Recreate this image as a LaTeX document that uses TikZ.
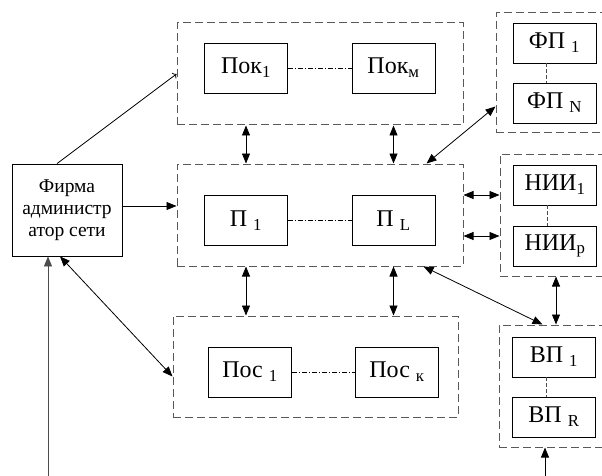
\documentclass[tikz,border=0pt]{standalone}
\usepackage{fontspec}
\setmainfont{Liberation Serif}
\usetikzlibrary{arrows.meta}

\begin{document}
\begin{tikzpicture}[x=1pt, y=-1pt, line width=0.8pt,
    unit/.style={draw, minimum width=83pt, minimum height=50pt, inner sep=0pt,
        font=\fontsize{24}{28}\selectfont},
    small/.style={unit, minimum height=40pt},
    group/.style={draw=black!65, dash pattern=on 8pt off 4pt, line width=1pt,
        inner sep=0pt},
    chain/.style={dash pattern=on 5pt off 2pt on 1pt off 2pt, line width=0.6pt},
    link/.style={draw=black!70, dash pattern=on 4pt off 2pt, line width=0.6pt},
    both/.style={{Triangle[length=10pt,width=8pt]}-{Triangle[length=10pt,width=8pt]}},
    to/.style={-{Triangle[length=10pt,width=8pt]}}]
    \clip (0,0) rectangle (602,476);
    % firm
    \node[draw, minimum width=110pt, minimum height=92pt, inner sep=0pt, align=center,
        font=\fontsize{19.5}{22}\selectfont] (firm) at (67,210)
        {Фирма\\администр\\атор сети};
    % groups
    \node[group, minimum width=286pt, minimum height=102pt] (pokG) at (320,74) {};
    \node[group, minimum width=286pt, minimum height=102pt] (pG) at (320,215) {};
    \node[group, minimum width=285pt, minimum height=101pt] (posG) at (315.5,366.5) {};
    \node[group, minimum width=116pt, minimum height=120pt] (fpG) at (554,73) {};
    \node[group, minimum width=112pt, minimum height=122pt] (niiG) at (556,215) {};
    \node[group, minimum width=113pt, minimum height=122pt] (vpG) at (555.5,386) {};
    % units
    \node[unit] (pok1) at (246,68) {Пок\textsubscript{1}};
    \node[unit] (pokm) at (393.5,68) {Пок\textsubscript{м}};
    \node[unit] (p1) at (246,220.5) {П \textsubscript{1}};
    \node[unit] (pL) at (393.5,220.5) {П \textsubscript{L}};
    \node[unit] (pos1) at (250,372) {Пос \textsubscript{1}};
    \node[unit] (posk) at (397,372) {Пос \textsubscript{к}};
    \node[small] (fp1) at (554.5,43) {ФП \textsubscript{1}};
    \node[small] (fpN) at (554.5,103) {ФП \textsubscript{N}};
    \node[small] (nii1) at (555,185) {НИИ\textsubscript{1}};
    \node[small] (niip) at (555,246) {НИИ\textsubscript{р}};
    \node[small] (vp1) at (554,357) {ВП \textsubscript{1}};
    \node[small] (vpR) at (554,417) {ВП \textsubscript{R}};
    % inside the groups
    \draw[chain] (pok1) -- (pokm);
    \draw[chain] (p1) -- (pL);
    \draw[chain] (pos1) -- (posk);
    \draw[link] ([xshift=-8pt]fp1.south) -- ([xshift=-8pt]fpN.north);
    \draw[link] ([xshift=-8pt]nii1.south) -- ([xshift=-8pt]niip.north);
    \draw[link] ([xshift=-8pt]vp1.south) -- ([xshift=-8pt]vpR.north);
    % links
    \draw[->] ([xshift=-10pt]firm.north) -- (pokG.west);
    \draw[to] ([yshift=4pt]firm.east) -- ([yshift=4pt]firm.east -| pG.west);
    \draw[both] ([xshift=-7pt]firm.south) -- ([yshift=-10pt]posG.west);
    \draw[both] (pokG.south -| p1) -- (pG.north -| p1);
    \draw[both] (pokG.south -| pL) -- (pG.north -| pL);
    \draw[both] (pG.south -| p1) -- (posG.north -| p1);
    \draw[both] (pG.south -| pL) -- (posG.north -| pL);
    \draw[both] ([yshift=27pt]fpG.south west) -- ([xshift=-37pt]pG.north east);
    \draw[both] ([yshift=20pt]pG.east) -- ([yshift=20pt]pG.east -| niiG.west);
    \draw[both] ([yshift=-21pt]pG.east) -- ([yshift=-21pt]pG.east -| niiG.west);
    \draw[both] ([xshift=-40pt]pG.south east) -- ([xshift=-13pt]vpG.north);
    \draw[both] (niiG.south) -- (niiG.south |- vpG.north);
    \coordinate (inA) at (48,476);
    \coordinate (inB) at (545,476);
    \draw[to, draw=black!70] (inA) -- (inA |- firm.south);
    \draw[to] (inB) -- (inB |- vpG.south);
\end{tikzpicture}
\end{document}
